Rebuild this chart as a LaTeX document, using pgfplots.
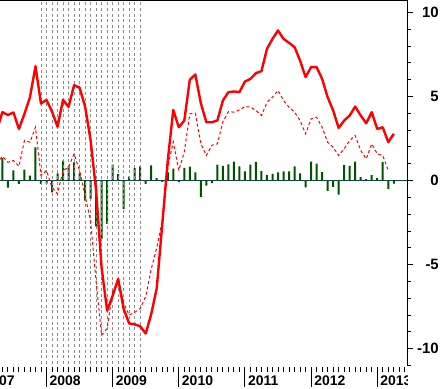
\documentclass[border=0pt]{standalone}
\usepackage{pgfplots}
\pgfplotsset{compat=1.18}
\usepackage{pgfplotstable}
\usepackage{fontspec}
\setmainfont{Liberation Sans}
\definecolor{barg}{HTML}{005200}
\definecolor{zeroc}{HTML}{0F4545}
\definecolor{rgray}{HTML}{8A8A8A}

\pgfplotstableread{
k s d
3 3.0 1.0
4 4.07 1.45
5 3.9 1.09
6 4.05 1.19
7 3.07 0.85
8 3.97 2.38
9 4.96 2.28
10 6.8 3.17
11 4.58 0.3
12 4.8 0.6
13 4.1 -0.4
14 3.2 -0.79
15 4.8 0.6
16 4.38 0.79
17 5.67 1.59
18 5.52 0.6
19 4.4 -0.9
20 2.4 -2.4
21 -0.6 -6.0
22 -5.2 -9.2
23 -7.74 -8.8
24 -6.85 -6.6
25 -5.85 -6.0
26 -7.64 -7.3
27 -8.5 -8.0
28 -8.55 -7.84
29 -8.67 -7.6
30 -9.1 -6.9
31 -7.94 -5.26
32 -6.4 -4.0
33 -2.6 -2.4
34 1.2 0.8
35 4.2 2.3
36 3.17 0.6
37 3.57 1.7
38 6.0 3.97
39 6.31 4.0
40 4.6 2.2
41 3.47 1.49
42 3.47 2.1
43 3.57 2.18
44 4.76 3.5
45 5.26 4.1
46 5.3 4.07
47 5.26 4.2
48 5.89 4.4
49 6.05 4.37
50 6.39 4.17
51 6.51 3.87
52 7.84 4.66
53 8.43 4.96
54 8.93 5.36
55 8.43 4.76
56 8.19 4.36
57 7.94 4.07
58 7.14 3.57
59 6.15 2.78
60 6.75 3.67
61 6.75 3.77
62 6.05 3.17
63 4.96 2.28
64 4.17 1.98
65 3.13 1.49
66 3.57 1.89
67 3.87 2.38
68 4.4 2.68
69 3.87 1.79
70 3.41 1.29
71 4.07 2.18
72 3.07 1.59
73 3.17 1.49
74 2.28 0.6
75 2.78 nan
}\lines

\pgfplotstableread{
k b
4 1.33
5 -0.42
6 0.6
7 -0.2
8 0.65
9 0.3
10 1.98
11 -0.2
12 -0.18
13 -0.7
14 0.43
15 1.18
16 0.84
17 1.08
18 0.43
19 -1.19
20 -1.09
21 -2.72
22 -3.47
23 -2.58
24 0.95
25 0.38
26 -1.69
27 0.24
28 0.74
29 0.84
30 -0.2
31 0.9
32 0.14
33 -0.1
34 0.48
35 0.71
36 -0.1
37 0.75
38 0.83
39 0.48
40 -0.99
41 -0.3
42 -0.15
43 0.95
44 0.87
45 0.97
46 1.13
47 0.85
48 0.54
49 0.95
50 1.11
51 0.58
52 0.32
53 0.4
54 0.48
55 0.55
56 0.55
57 0.85
58 0.42
59 -0.4
60 1.13
61 1.01
62 0.5
63 -0.62
64 -0.37
65 -0.83
66 0.93
67 0.87
68 1.13
69 0.2
70 0.08
71 0.32
72 0.14
73 1.11
74 -0.5
75 -0.18
}\bars

\tikzset{yrlab/.style={anchor=base west, inner sep=0pt, xshift=3bp, yshift=-20bp,
  font=\bfseries\fontsize{14}{14}\selectfont}}

\begin{document}
\begin{tikzpicture}
\begin{axis}[
  name=ax,
  scale only axis, width=407bp, height=365bp,
  xmin=3.564, xmax=77.4, ymin=-11.0, ymax=10.71,
  axis x line*=top, axis y line*=right,
  axis line style={-, black, line width=0.9bp},
  xtick=\empty,
  ytick={-10,-5,0,5,10},
  yticklabels={-10,-5,0,5,10},
  minor ytick={-11,-9,-8,-7,-6,-4,-3,-2,-1,1,2,3,4,6,7,8,9},
  tick align=outside,
  major tick length=6bp, minor tick length=3.5bp,
  tick style={black, line width=0.9bp},
  yticklabel style={anchor=east, inner sep=0pt, xshift=26bp,
    font=\bfseries\fontsize{15}{15}\selectfont},
  clip mode=individual,
  unbounded coords=jump,
]
\addplot[ybar, bar width=2bp, fill=barg, draw=none] table[x=k, y=b] {\bars};
\draw[zeroc, line width=1.2bp] (axis cs:3.564,0) -- (axis cs:77.4,0);
\pgfplotsinvokeforeach{11,...,29}{
  \draw[rgray, line width=0.8bp, dash pattern=on 3bp off 2.6bp] (axis cs:#1,-10.9) -- (axis cs:#1,10.71);
}
\addplot[red, line width=1bp, dash pattern=on 3bp off 2.5bp] table[x=k, y=d] {\lines};
\addplot[red, line width=2.4bp, line join=round] table[x=k, y=s] {\lines};
\pgfplotsinvokeforeach{0,...,77}{
  \coordinate (m#1) at (axis cs:#1,-11.0);
}
\end{axis}
\begin{scope}
\clip ([yshift=-25bp]ax.south west) rectangle (ax.north east);
\foreach \k in {4,...,77}{
  \draw[black, line width=0.9bp] ([yshift=-1.5bp]m\k) -- ++(0bp,-5bp);
}
\foreach \k/\yr in {0/2007,12/2008,24/2009,36/2010,48/2011,60/2012,72/2013}{
  \draw[black, line width=0.9bp] ([yshift=-1.5bp]m\k) -- ++(0bp,-20bp);
  \node[yrlab] at (m\k) {\yr};
}
\end{scope}
\pgfresetboundingbox
\useasboundingbox ([yshift=-23bp]ax.south west) rectangle ([xshift=36bp, yshift=0.5bp]ax.north east);
\end{tikzpicture}
\end{document}
